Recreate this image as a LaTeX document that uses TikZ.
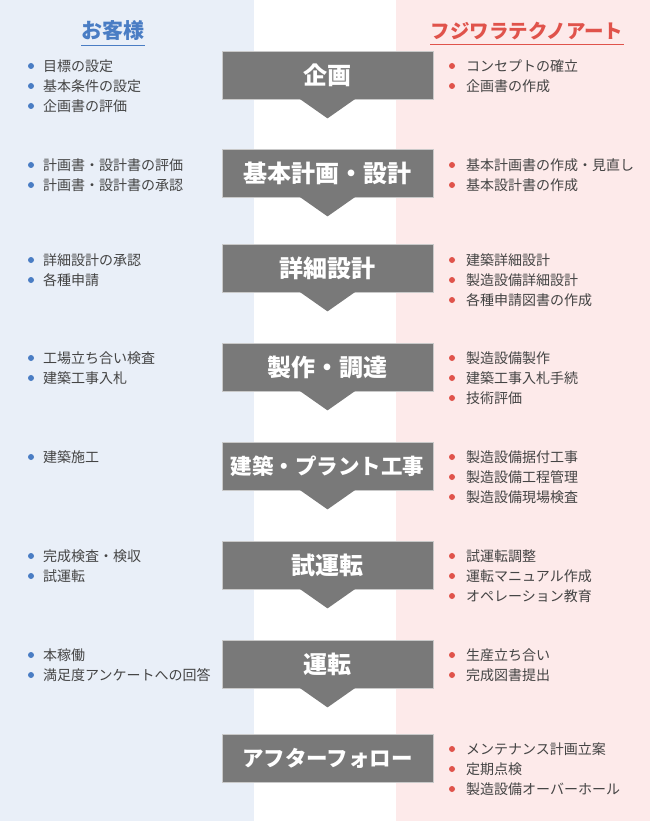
\documentclass[tikz,border=0pt]{standalone}
\usepackage{fontspec}
\setmainfont{Noto Sans CJK JP}
\usepackage{tikz}

\definecolor{bandblue}{HTML}{E9EFF8}
\definecolor{bandpink}{HTML}{FDEAEA}
\definecolor{boxgray}{HTML}{797979}
\definecolor{boxline}{HTML}{C9C9C9}
\definecolor{custblue}{HTML}{4A7DC4}
\definecolor{fujired}{HTML}{E0534B}
\definecolor{bodytext}{HTML}{444444}

\tikzset{
  stepbox/.style={fill=boxgray, draw=boxline, line width=0.8pt,
    minimum width=211pt, minimum height=48pt, inner sep=0pt, text=white,
    font=\bfseries\fontsize{24}{28}\selectfont},
  longstep/.style={stepbox, font=\bfseries\fontsize{21.5}{26}\selectfont},
  steptip/.style={fill=boxgray},
  item/.style={anchor=west, inner sep=0pt, text=bodytext, font=\fontsize{14}{17}\selectfont},
  coltitle/.style={inner sep=0pt, font=\bfseries\fontsize{19.5}{24}\selectfont},
}

\begin{document}
\begin{tikzpicture}[x=1pt,y=-1pt]
\useasboundingbox (0,0) rectangle (650,821);

% background bands
\fill[bandblue] (0,0) rectangle (254,821);
\fill[bandpink] (396,0) rectangle (650,821);

% column titles
\node[coltitle, text=custblue, font=\bfseries\fontsize{21}{25}\selectfont] (kyaku) at (113,31) {お客様};
\draw[custblue, line width=1.2pt] ([yshift=-4pt]kyaku.south west) -- ([yshift=-4pt]kyaku.south east);
\node[coltitle, text=fujired] (fujiwara) at (527,31) {フジワラテクノアート};
\draw[fujired, line width=1.2pt] ([yshift=-4pt]fujiwara.south west) -- ([yshift=-4pt]fujiwara.south east);

% steps
\node[stepbox] (kikaku) at (327.5,75) {企画};
\node[stepbox] (kihon) at (327.5,173) {基本計画・設計};
\node[stepbox] (shosai) at (327.5,268) {詳細設計};
\node[stepbox] (seisaku) at (327.5,367) {製作・調達};
\node[longstep] (kenchiku) at (327.5,466) {建築・プラント工事};
\node[stepbox] (shiunten) at (327.5,565) {試運転};
\node[stepbox] (unten) at (327.5,664) {運転};
\node[longstep] (after) at (327.5,758) {アフターフォロー};

% arrow tips under the steps
\fill[steptip] ([xshift=-28.5pt,yshift=1pt]kikaku.south) -- ([xshift=28.5pt,yshift=1pt]kikaku.south) -- ([yshift=-19pt]kikaku.south) -- cycle;
\fill[steptip] ([xshift=-28.5pt,yshift=1pt]kihon.south) -- ([xshift=28.5pt,yshift=1pt]kihon.south) -- ([yshift=-19pt]kihon.south) -- cycle;
\fill[steptip] ([xshift=-28.5pt,yshift=1pt]shosai.south) -- ([xshift=28.5pt,yshift=1pt]shosai.south) -- ([yshift=-19pt]shosai.south) -- cycle;
\fill[steptip] ([xshift=-28.5pt,yshift=1pt]seisaku.south) -- ([xshift=28.5pt,yshift=1pt]seisaku.south) -- ([yshift=-19pt]seisaku.south) -- cycle;
\fill[steptip] ([xshift=-28.5pt,yshift=1pt]kenchiku.south) -- ([xshift=28.5pt,yshift=1pt]kenchiku.south) -- ([yshift=-19pt]kenchiku.south) -- cycle;
\fill[steptip] ([xshift=-28.5pt,yshift=1pt]shiunten.south) -- ([xshift=28.5pt,yshift=1pt]shiunten.south) -- ([yshift=-19pt]shiunten.south) -- cycle;
\fill[steptip] ([xshift=-28.5pt,yshift=1pt]unten.south) -- ([xshift=28.5pt,yshift=1pt]unten.south) -- ([yshift=-19pt]unten.south) -- cycle;

% customer side items
\node[item] (c11) at (43,66) {目標の設定};
\node[item] (c12) at (43,86) {基本条件の設定};
\node[item] (c13) at (43,106) {企画書の評価};
\node[item] (c21) at (43,165) {計画書・設計書の評価};
\node[item] (c22) at (43,185) {計画書・設計書の承認};
\node[item] (c31) at (43,260) {詳細設計の承認};
\node[item] (c32) at (43,280) {各種申請};
\node[item] (c41) at (43,358) {工場立ち合い検査};
\node[item] (c42) at (43,378) {建築工事入札};
\node[item] (c51) at (43,457) {建築施工};
\node[item] (c61) at (43,556) {完成検査・検収};
\node[item] (c62) at (43,576) {試運転};
\node[item] (c71) at (43,655) {本稼働};
\node[item] (c72) at (43,675) {満足度アンケートへの回答};

\foreach \n in {c11,c12,c13,c21,c22,c31,c32,c41,c42,c51,c61,c62,c71,c72}
  \fill[custblue] ([xshift=-12pt]\n.west) circle (3pt);

% fujiwara side items
\node[item] (f11) at (466,66) {コンセプトの確立};
\node[item] (f12) at (466,86) {企画書の作成};
\node[item] (f21) at (466,165) {基本計画書の作成・見直し};
\node[item] (f22) at (466,185) {基本設計書の作成};
\node[item] (f31) at (466,260) {建築詳細設計};
\node[item] (f32) at (466,280) {製造設備詳細設計};
\node[item] (f33) at (466,300) {各種申請図書の作成};
\node[item] (f41) at (466,358) {製造設備製作};
\node[item] (f42) at (466,378) {建築工事入札手続};
\node[item] (f43) at (466,398) {技術評価};
\node[item] (f51) at (466,457) {製造設備据付工事};
\node[item] (f52) at (466,477) {製造設備工程管理};
\node[item] (f53) at (466,497) {製造設備現場検査};
\node[item] (f61) at (466,556) {試運転調整};
\node[item] (f62) at (466,576) {運転マニュアル作成};
\node[item] (f63) at (466,596) {オペレーション教育};
\node[item] (f71) at (466,655) {生産立ち合い};
\node[item] (f72) at (466,675) {完成図書提出};
\node[item] (f81) at (466,749) {メンテナンス計画立案};
\node[item] (f82) at (466,769) {定期点検};
\node[item] (f83) at (466,789) {製造設備オーバーホール};

\foreach \n in {f11,f12,f21,f22,f31,f32,f33,f41,f42,f43,f51,f52,f53,f61,f62,f63,f71,f72,f81,f82,f83}
  \fill[fujired] ([xshift=-14pt]\n.west) circle (3pt);

\end{tikzpicture}
\end{document}
